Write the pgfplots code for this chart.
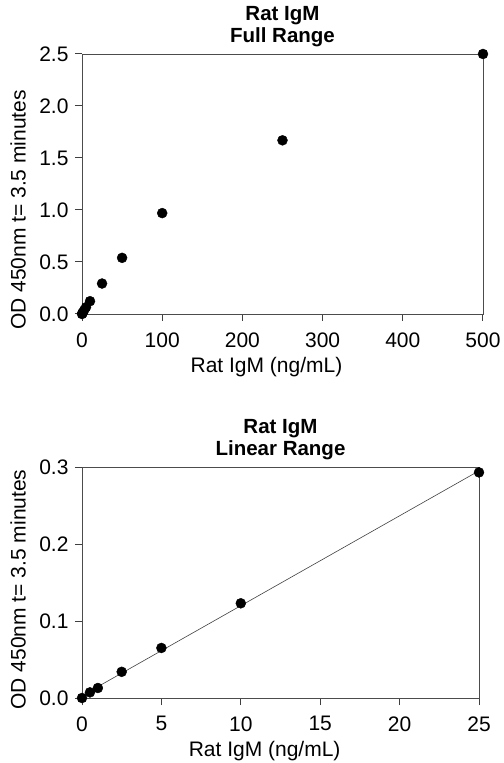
\documentclass[border=0pt]{standalone}
\usepackage{pgfplots}
\usepackage{pgfplotstable}
\pgfplotsset{compat=1.18}
\usepackage{fontspec}
\setmainfont{Liberation Sans}

\pgfplotstableread{
x y
0 0
0.5 0.0073
1 0.013
2.5 0.034
5 0.065
10 0.123
25 0.293
50 0.54
100 0.97
250 1.67
500 2.5
}\fullrange

\pgfplotstableread{
x y
0 0
0.5 0.0073
1 0.013
2.5 0.034
5 0.065
10 0.123
25 0.293
}\linrange

\pgfplotsset{
  ratstyle/.style={
    scale only axis,
    anchor=south west,
    font=\fontsize{21bp}{24bp}\selectfont,
    /pgf/number format/assume math mode=true,
    axis line style={black!70, line width=0.9pt},
    tick align=outside,
    xtick pos=bottom, ytick pos=left,
    major tick length=7bp,
    xtick style={draw=black!75, line width=1pt},
    ytick style={draw=black!75, line width=1pt},
    yticklabel style={xshift=-3bp, /pgf/number format/fixed, /pgf/number format/fixed zerofill, /pgf/number format/precision=1},
    xticklabel style={yshift=-8bp, /pgf/number format/fixed},
    scaled ticks=false,
    title style={align=center, font=\fontsize{20.5bp}{22bp}\selectfont\bfseries, inner sep=1bp},
    xlabel={Rat IgM (ng/mL)},
    ylabel={OD 450nm t= 3.5 minutes},
    clip=false,
  },
}

\begin{document}
\begin{tikzpicture}
\path[use as bounding box] (0,0) rectangle (504bp,763bp);

% full range
\begin{axis}[ratstyle,
  at={(82bp,449bp)}, width=401bp, height=260bp,
  xmin=0, xmax=500, ymin=0, ymax=2.5,
  xtick={0,100,...,500}, ytick={0,0.5,...,2.5},
  title={Rat IgM\\Full Range},
  xlabel style={at={(axis description cs:0.46,0)}, anchor=center, yshift=-53bp},
  ylabel style={at={(axis description cs:0,0.40)}, anchor=center, yshift=64bp},
]
\addplot[only marks, mark=*, mark size=5bp, black] table[x=x, y=y] {\fullrange};
\end{axis}

% linear range
\begin{axis}[ratstyle,
  at={(82bp,65bp)}, width=397bp, height=231bp,
  xmin=0, xmax=25, ymin=0, ymax=0.3,
  xtick={0,5,...,25}, ytick={0,0.1,0.2,0.3},
  title={Rat IgM\\Linear Range},
  xlabel style={at={(axis description cs:0.46,0)}, anchor=center, yshift=-53bp},
  ylabel style={at={(axis description cs:0,0.47)}, anchor=center, yshift=64bp},
]
\addplot[no marks, black!75, line width=0.6pt] table[x=x, y={create col/linear regression={y=y}}] {\linrange};
\addplot[only marks, mark=*, mark size=5bp, black] table[x=x, y=y] {\linrange};
\end{axis}
\end{tikzpicture}
\end{document}
